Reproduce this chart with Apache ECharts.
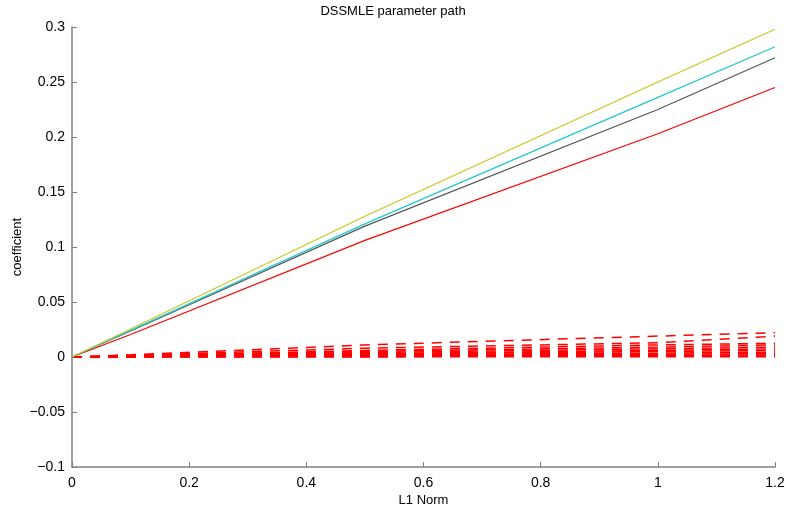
<!DOCTYPE html>
<html><head><meta charset="utf-8">
<script src="https://cdn.jsdelivr.net/npm/echarts@6/dist/echarts.min.js"></script>
<style>html,body{margin:0;padding:0;background:#fff}#c{width:786px;height:513px}</style>
</head><body><div id="c"></div>
<script>
const xs = [0, 0.1, 0.5, 1.0, 1.2];
const yellowLine = [0, 0.0255, 0.128, 0.25, 0.298];
const cyanLine = [0, 0.0242, 0.121, 0.236, 0.282];
const grayLine = [0, 0.0236, 0.119, 0.225, 0.272];
const redLine = [0, 0.0205, 0.106, 0.203, 0.245];
const dashed1 = [0, 0.002, 0.011, 0.019, 0.022];
const dashed2 = [0, 0.0016, 0.008, 0.013, 0.019];
const dashed3 = [0, 0.001, 0.006, 0.011, 0.0125];
const dashed4 = [0, 0.001, 0.005, 0.009, 0.011];
const dashed5 = [0, 0.001, 0.004, 0.0075, 0.009];
const dashed6 = [0, 0.0008, 0.003, 0.006, 0.0075];
const dashed7 = [0, 0.0005, 0.0025, 0.005, 0.006];
const dashed8 = [0, 0.0004, 0.002, 0.0035, 0.0045];
const dashed9 = [0, 0.0003, 0.0015, 0.0025, 0.003];
const dashed10 = [0, 0.0002, 0.001, 0.0015, 0.002];
const dashed11 = [0, 0.0001, 0.0005, 0.0008, 0.001];
const dashed12 = [0, 0, 0.0001, 0.0002, 0.0003];
const dashedLines = [dashed1,dashed2,dashed3,dashed4,dashed5,dashed6,dashed7,dashed8,dashed9,dashed10,dashed11,dashed12];

const pairs = ys => xs.map((x,i)=>[x, ys[i]]);
const fmt = v => {
  const s = String(Math.round(v*1000)/1000);
  return s.replace('-', '\u2212');
};
const font = 'Liberation Sans, Helvetica, Arial, sans-serif';
const series = [];
dashedLines.forEach(d => series.push({type:'line', data:pairs(d), showSymbol:false, silent:true,
  lineStyle:{color:'#ff0000', width:1.5, type:[10,8]}}));
[[redLine,'#ff0000'],[grayLine,'#555555'],[cyanLine,'#22c8cc'],[yellowLine,'#c8c820']].forEach(([d,c]) =>
  series.push({type:'line', data:pairs(d), showSymbol:false, silent:true, lineStyle:{color:c, width:1.2}}));

const chart = echarts.init(document.getElementById('c'), null, {renderer:'canvas'});
chart.setOption({
  animation:false,
  backgroundColor:'#fff',
  title:{text:'DSSMLE parameter path', left:'center', top:0, textStyle:{fontFamily:font, fontSize:13, fontWeight:'normal', color:'#000'}},
  grid:{left:72, right:11, top:27, bottom:46, containLabel:false, outerBoundsMode:'none'},
  xAxis:{type:'value', min:0, max:1.2, interval:0.2, name:'L1 Norm', nameLocation:'middle', nameGap:27,
    nameMoveOverlap:false,
    nameTextStyle:{fontFamily:font, fontSize:13, color:'#000'},
    axisLine:{onZero:false, lineStyle:{color:'#808080', width:1.5}},
    axisTick:{inside:true, length:5, lineStyle:{color:'#808080'}},
    axisLabel:{fontFamily:font, fontSize:14, color:'#000', margin:9, formatter:fmt},
    splitLine:{show:false}},
  yAxis:{type:'value', min:-0.1, max:0.3, interval:0.05, name:'coefficient', nameLocation:'middle', nameGap:48,
    nameMoveOverlap:false,
    nameTextStyle:{fontFamily:font, fontSize:13, color:'#000'},
    axisLine:{show:true, onZero:false, lineStyle:{color:'#808080', width:1.5}},
    axisTick:{show:true, inside:true, length:5, lineStyle:{color:'#808080'}},
    axisLabel:{fontFamily:font, fontSize:14, color:'#000', margin:7, formatter:fmt},
    splitLine:{show:false}},
  series
});
</script></body></html>
